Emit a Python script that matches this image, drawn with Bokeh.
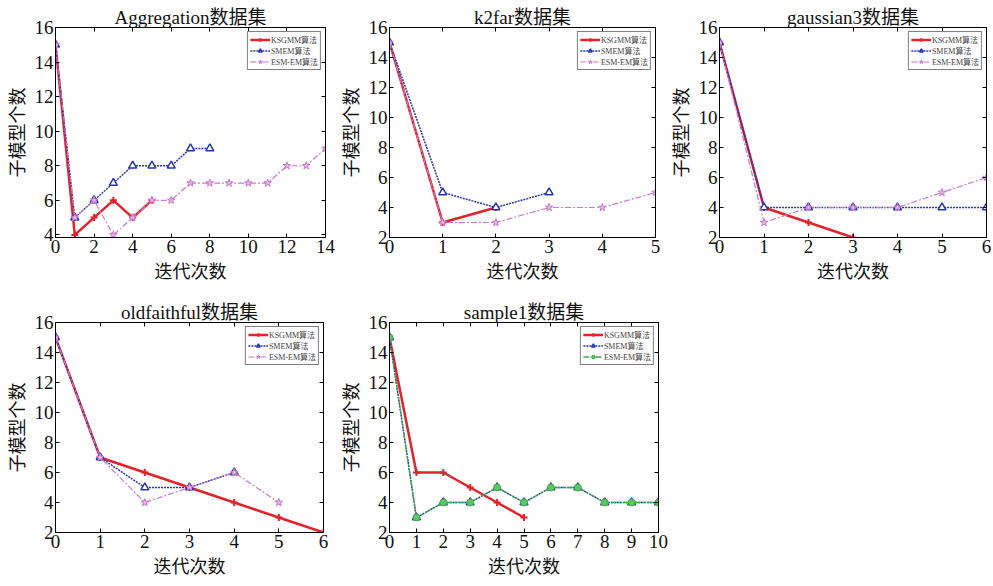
from bokeh.plotting import figure
from bokeh.models import LinearAxis, FixedTicker, Range1d
from bokeh.layouts import column, row
from bokeh.embed import file_html
from bokeh.resources import INLINE

SERIES = ["KSGMM算法", "SMEM算法", "ESM-EM算法"]
X_LABEL = "迭代次数"
Y_LABEL = "子模型个数"

# Aggregation
agg_title = "Aggregation数据集"
agg_ksgmm = [15, 4, 5, 6, 5, 6]
agg_smem = [15, 5, 6, 7, 8, 8, 8, 9, 9]
agg_esm = [15, 5, 6, 4, 5, 6, 6, 7, 7, 7, 7, 7, 8, 8, 9]
agg_xticks = [0, 2, 4, 6, 8, 10, 12, 14]
agg_yticks = [4, 6, 8, 10, 12, 14, 16]

# k2far
k2_title = "k2far数据集"
k2_ksgmm = [15, 3, 4]
k2_smem = [15, 5, 4, 5]
k2_esm = [15, 3, 3, 4, 4, 5]
k2_xticks = [0, 1, 2, 3, 4, 5]

# gaussian3
g3_title = "gaussian3数据集"
g3_ksgmm = [15, 4, 3, 2]
g3_smem = [15, 4, 4, 4, 4, 4, 4]
g3_esm = [15, 3, 4, 4, 4, 5, 6]
g3_xticks = [0, 1, 2, 3, 4, 5, 6]

# oldfaithful
of_title = "oldfaithful数据集"
of_ksgmm = [15, 7, 6, 5, 4, 3, 2]
of_smem = [15, 7, 5, 5, 6]
of_esm = [15, 7, 4, 5, 6, 4]
of_xticks = [0, 1, 2, 3, 4, 5, 6]

# sample1
s1_title = "sample1数据集"
s1_ksgmm = [15, 6, 6, 5, 4, 3]
s1_smem = [15, 3, 4, 4, 5, 4, 5, 5, 4, 4, 4]
s1_esm = [15, 3, 4, 4, 5, 4, 5, 5, 4, 4, 4]
s1_xticks = [0, 1, 2, 3, 4, 5, 6, 7, 8, 9, 10]

yticks_2 = [2, 4, 6, 8, 10, 12, 14, 16]

FONT = "'Liberation Serif', 'Noto Sans CJK SC'"
RED = "#e3222b"
BLUE = "#2636b0"
PINK = "#c77ac7"
PINK_FILL = "#e9b4e9"
GREEN = "#3faa4a"
GREEN_FILL = "#5cc566"


def make_fig(title, ks, sm, es, xticks, yticks, ymin, width, height,
             bl, br, bt, bb, green=False):
    xmax = xticks[-1]
    p = figure(width=width, height=height, output_backend="svg",
               toolbar_location=None, x_range=Range1d(0, xmax),
               y_range=Range1d(ymin, 16),
               min_border_left=bl, min_border_right=br,
               min_border_top=bt, min_border_bottom=bb)
    p.title.text = title
    p.title.align = "center"
    p.title.text_font = FONT
    p.title.text_font_size = "19px"
    p.title.text_font_style = "normal"
    p.title.text_color = "#111111"
    p.title.standoff = 0
    p.title.offset = 0
    p.grid.visible = False
    p.outline_line_color = "black"
    p.background_fill_color = "white"
    p.border_fill_color = "white"

    for ax, ticks in ((p.xaxis[0], xticks), (p.yaxis[0], yticks)):
        ax.ticker = FixedTicker(ticks=ticks)
        ax.major_tick_in = 4
        ax.major_tick_out = 0
        ax.minor_tick_line_color = None
        ax.major_label_text_font = FONT
        ax.major_label_text_font_size = "19px"
        ax.major_label_text_color = "#111111"
        ax.major_label_standoff = 2
        ax.axis_label_text_font = FONT
        ax.axis_label_text_font_size = "18px"
        ax.axis_label_text_font_style = "normal"
        ax.axis_label_text_color = "#111111"
        ax.axis_line_color = "black"
    p.xaxis[0].axis_label = X_LABEL
    p.xaxis[0].axis_label_standoff = 6
    p.yaxis[0].axis_label = Y_LABEL
    p.yaxis[0].axis_label_standoff = 4

    top = LinearAxis(ticker=FixedTicker(ticks=xticks), major_tick_in=4,
                     major_tick_out=0, minor_tick_line_color=None,
                     major_label_text_font_size="1px",
                     major_label_text_color=None, major_label_standoff=0)
    right = LinearAxis(ticker=FixedTicker(ticks=yticks), major_tick_in=4,
                       major_tick_out=0, minor_tick_line_color=None,
                       major_label_text_font_size="1px",
                       major_label_text_color=None, major_label_standoff=0)
    p.add_layout(top, "above")
    p.add_layout(right, "right")

    xk = list(range(len(ks)))
    xs = list(range(len(sm)))
    xe = list(range(len(es)))

    p.line(xk, ks, line_color=RED, line_width=2.5, legend_label=SERIES[0])
    p.scatter(xk, ks, marker="cross", size=7, line_color=RED, line_width=2,
              legend_label=SERIES[0])
    p.line(xs, sm, line_color=BLUE, line_width=1.5, line_dash="2 1",
           legend_label=SERIES[1])
    p.scatter(xs, sm, marker="triangle", size=8, line_color=BLUE,
              fill_color="white", line_width=1.5, legend_label=SERIES[1])
    if green:
        p.line(xe, es, line_color=GREEN, line_width=1.3, line_dash="6 2 2 2",
               legend_label=SERIES[2])
        p.scatter(xe, es, marker="circle", size=7, line_color=GREEN,
                  fill_color=GREEN_FILL, line_width=1, legend_label=SERIES[2])
    else:
        p.line(xe, es, line_color=PINK, line_width=1.2, line_dash="6 2 2 2",
               legend_label=SERIES[2])
        p.scatter(xe, es, marker="star", size=8, line_color=PINK,
                  fill_color=PINK_FILL, line_width=1, legend_label=SERIES[2])

    lg = p.legend[0]
    lg.location = "top_right"
    lg.margin = 4
    lg.padding = 2
    lg.spacing = 0
    lg.label_height = 9
    lg.glyph_height = 9
    lg.glyph_width = 20
    lg.label_standoff = 1
    lg.label_text_font = FONT
    lg.label_text_font_size = "8px"
    lg.border_line_color = "black"
    lg.border_line_width = 1
    lg.background_fill_alpha = 1
    return p


f1 = make_fig(agg_title, agg_ksgmm, agg_smem, agg_esm, agg_xticks, agg_yticks,
              3.85, 338, 298, 55, 13, 27, 61)
f2 = make_fig(k2_title, k2_ksgmm, k2_smem, k2_esm, k2_xticks, yticks_2,
              2, 330, 298, 47, 13, 27, 61)
f3 = make_fig(g3_title, g3_ksgmm, g3_smem, g3_esm, g3_xticks, yticks_2,
              2, 323, 298, 50, 5, 27, 61)
f4 = make_fig(of_title, of_ksgmm, of_smem, of_esm, of_xticks, yticks_2,
              2, 338, 286, 55, 15, 24, 52)
f5 = make_fig(s1_title, s1_ksgmm, s1_smem, s1_esm, s1_xticks, yticks_2,
              2, 330, 286, 50, 10, 24, 52, green=True)

layout = column(row(f1, f2, f3), row(f4, f5))
open("out.html", "w").write(file_html(layout, INLINE))
